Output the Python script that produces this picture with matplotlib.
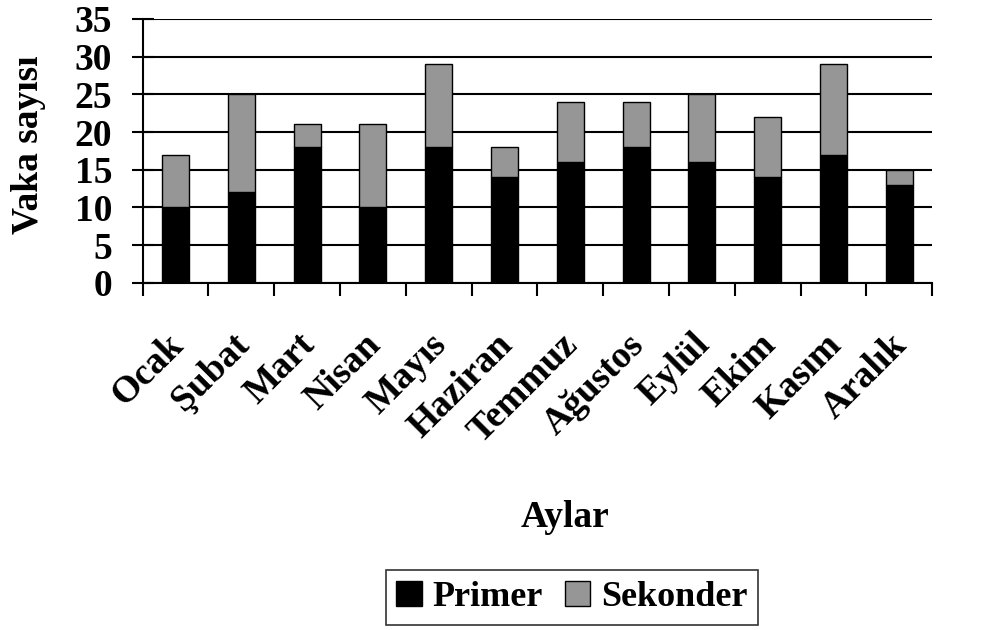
import numpy as np
import matplotlib
matplotlib.use('Agg')
import matplotlib.pyplot as plt
from matplotlib.ticker import MultipleLocator
import matplotlib.transforms as mtransforms

plt.rcParams['font.family'] = ['Liberation Serif', 'DejaVu Serif']
plt.rcParams['font.weight'] = 'bold'

# veriler
aylar = ['Ocak', 'Şubat', 'Mart', 'Nisan', 'Mayıs', 'Haziran',
         'Temmuz', 'Ağustos', 'Eylül', 'Ekim', 'Kasım', 'Aralık']
primer = [10, 12, 18, 10, 18, 14, 16, 18, 16, 14, 17, 13]
sekonder = [7, 13, 3, 11, 11, 4, 8, 6, 9, 8, 12, 2]

FS = 27

fig = plt.figure(figsize=(9.98, 6.3), dpi=100)
ax = fig.add_axes([0.143, 0.551, 0.791, 0.419])

x = np.arange(len(aylar))
ax.bar(x, primer, width=0.41, color='black', edgecolor='black', linewidth=1, label='Primer', zorder=3)
ax.bar(x, sekonder, width=0.41, bottom=primer, color='#969696', edgecolor='black', linewidth=1,
       label='Sekonder', zorder=3)

ax.set_xlim(-0.5, len(aylar) - 0.5)
ax.set_ylim(0, 35)
ax.yaxis.set_major_locator(MultipleLocator(5))
ax.grid(axis='y', color='black', linewidth=1.5, zorder=0)

for s in ['top', 'right']:
    ax.spines[s].set_visible(False)
ax.spines['left'].set_linewidth(1.5)
ax.spines['bottom'].set_linewidth(1.5)

# ay etiketleri (45 derece)
ax.set_xticks(x)
ax.set_xticklabels(aylar, rotation=45, ha='right', va='top', rotation_mode='anchor',
                   fontsize=FS, fontweight='bold')
ax.tick_params(axis='x', which='major', length=0, pad=32)
offset = mtransforms.ScaledTranslation(-10 / 100, 0, fig.dpi_scale_trans)
for lab in ax.get_xticklabels():
    lab.set_transform(lab.get_transform() + offset)
ax.set_xticks(np.arange(-0.5, len(aylar)), minor=True)
ax.tick_params(axis='x', which='minor', length=9, width=1.5, direction='out')
ax.tick_params(axis='y', length=16, width=1.5, direction='inout', labelsize=FS, pad=14)
for lab in ax.get_yticklabels():
    lab.set_fontweight('bold')

fig.text(0.029, 0.77, 'Vaka sayısı', fontsize=FS, fontweight='bold', rotation=90,
         ha='center', va='center')
fig.text(0.566, 0.179, 'Aylar', fontsize=FS, fontweight='bold', ha='center', va='center')

leg = fig.legend(loc='upper center', bbox_to_anchor=(0.573, 0.095), ncol=2,
                 frameon=True, fancybox=False, edgecolor='black', handlelength=0.7,
                 handleheight=0.7, handletextpad=0.3, columnspacing=0.6, borderpad=0.3,
                 borderaxespad=0, prop={'weight': 'bold', 'size': 26})
leg.get_frame().set_linewidth(1.2)

fig.savefig('out.png', dpi=100)
